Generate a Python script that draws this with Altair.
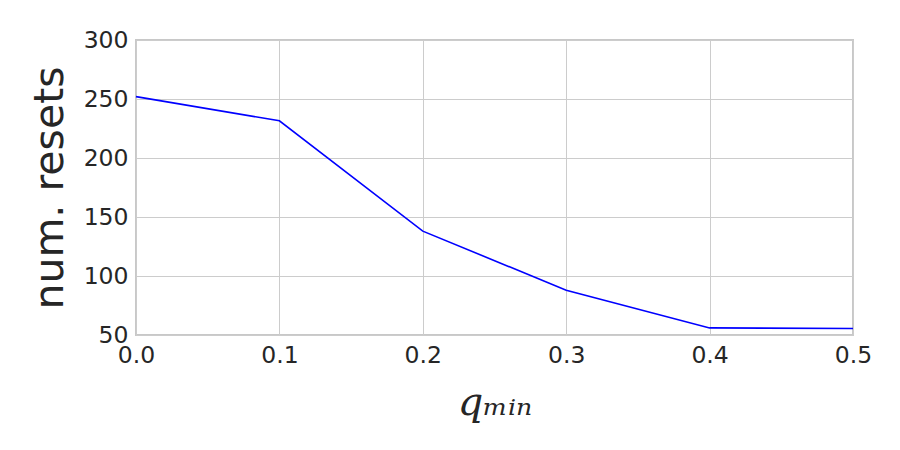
import altair as alt
import pandas as pd

q_min = [0.0, 0.1, 0.2, 0.3, 0.4, 0.5]
num_resets = [252, 231.5, 138, 88, 56, 55.5]

df = pd.DataFrame({"q": q_min, "resets": num_resets})

chart = alt.Chart(df).mark_line(color="#0000ff", strokeWidth=1.6).encode(
    x=alt.X("q:Q", scale=alt.Scale(domain=[0, 0.5], nice=False),
            axis=alt.Axis(values=[0, 0.1, 0.2, 0.3, 0.4, 0.5], format=".1f",
                          title="qₘᵢₙ", titleFont="DejaVu Serif", titleFontStyle="italic",
                          titleFontSize=40, titleFontWeight="normal", titlePadding=16)),
    y=alt.Y("resets:Q", scale=alt.Scale(domain=[50, 300], nice=False),
            axis=alt.Axis(values=[50, 100, 150, 200, 250, 300],
                          title="num. resets", titleFontSize=41, titleFontWeight="normal",
                          titlePadding=12)),
).properties(
    width=717, height=295,
    autosize=alt.AutoSizeParams(type="none"),
    padding={"left": 128, "top": 32, "right": 39, "bottom": 107},
).configure_axis(
    labelFont="DejaVu Sans", labelFontSize=23.5, labelColor="#262626",
    titleFont="DejaVu Sans", titleColor="#262626",
    grid=True, gridColor="#cccccc", gridWidth=1,
    domain=False, ticks=False, labelPadding=8, labelFlush=False,
).configure_view(
    stroke="#c8c8c8", strokeWidth=2,
)

chart.save("out.html", embed_options={"renderer": "svg", "actions": False})
